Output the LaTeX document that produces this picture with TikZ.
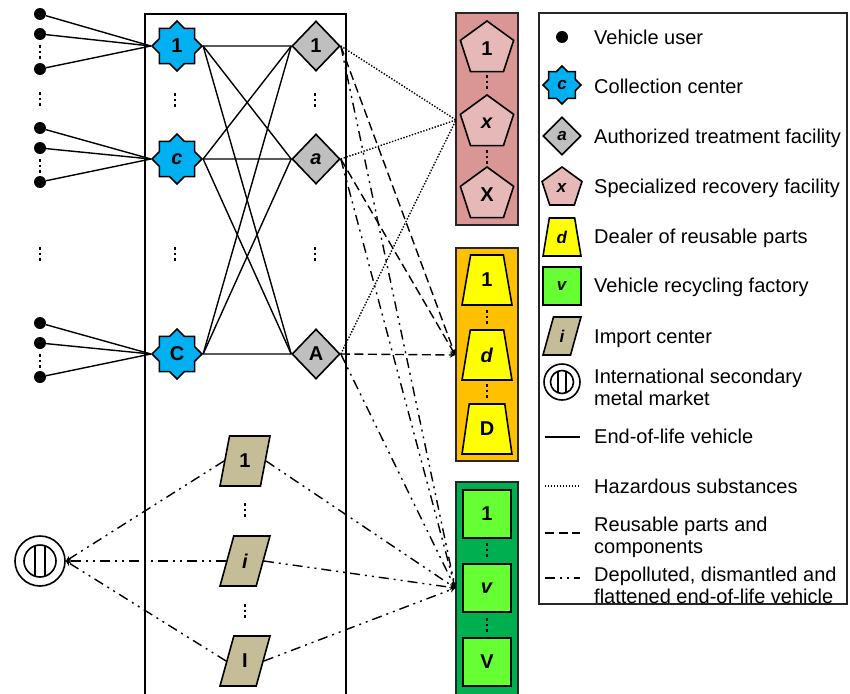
\documentclass[tikz,border=0pt]{standalone}
\usepackage{fontspec}
\setmainfont{Liberation Sans}
\usetikzlibrary{shapes.geometric}
\definecolor{ccblue}{HTML}{00B0F0}
\definecolor{atfgray}{HTML}{BFBFBF}
\definecolor{srfback}{HTML}{D99694}
\definecolor{srffill}{HTML}{E6B9B8}
\definecolor{dlrback}{HTML}{FFC000}
\definecolor{dlrfill}{HTML}{FFFF00}
\definecolor{vrfback}{HTML}{00B050}
\definecolor{vrffill}{HTML}{66FF33}
\definecolor{impfill}{HTML}{C4BD97}
\tikzset{
	user/.style={circle, fill=black, inner sep=0pt, minimum size=12pt},
	facility/.style={draw, line width=1.6pt, inner sep=0pt, font=\fontsize{20}{20}\selectfont\bfseries},
	coll/.style={facility, star, star points=8, star point ratio=1.31, fill=ccblue, minimum size=50pt},
	atf/.style={facility, diamond, fill=atfgray, minimum width=48pt, minimum height=50pt},
	srf/.style={facility, regular polygon, regular polygon sides=5, fill=srffill, minimum size=56pt},
	dlr/.style={facility, trapezium, trapezium left angle=78, trapezium right angle=78, trapezium stretches=true, fill=dlrfill, minimum width=50pt, minimum height=50pt},
	vrf/.style={facility, rectangle, fill=vrffill, minimum size=48pt},
	imp/.style={facility, trapezium, trapezium left angle=76, trapezium right angle=104, trapezium stretches=true, fill=impfill, minimum width=50pt, minimum height=50pt},
	market/.style={circle, draw, line width=1.6pt, inner sep=0pt},
	group/.style={draw=black!85, line width=1.5pt, inner sep=0pt, minimum width=62pt},
	small/.style={minimum size=38pt, font=\fontsize{17}{17}\selectfont\bfseries},
	eol/.style={line width=1.4pt},
	haz/.style={line width=1.4pt, dash pattern=on 1.4pt off 1.6pt},
	reuse/.style={line width=1.4pt, dash pattern=on 9pt off 4.5pt},
	depol/.style={line width=1.4pt, dash pattern=on 10pt off 5pt on 2pt off 5pt on 2pt off 5pt},
	ellip/.style={line width=2.6pt, dash pattern=on 2.6pt off 3pt},
	legtext/.style={anchor=base west, align=left, inner sep=0pt, font=\fontsize{20}{21.5}\selectfont}
}
\begin{document}
\begin{tikzpicture}[x=1pt, y=-1pt]
	\useasboundingbox (0,0) rectangle (850,693);

	\draw[line width=1.2pt] (145,695) -- (145,14) -- (346,14) -- (346,695);
	\node[group, fill=srfback, minimum height=212pt] (srfbox) at (487,119) {};
	\node[group, fill=dlrback, minimum height=213pt] (dlrbox) at (487,354.5) {};
	\node[group, fill=vrfback, minimum height=214pt] (vrfbox) at (487,589) {};

	% vehicle users
	\node[user] (u1) at (40,14) {};
	\node[user] (u2) at (40,34) {};
	\node[user] (u3) at (40,69) {};
	\node[user] (u4) at (40,128) {};
	\node[user] (u5) at (40,148) {};
	\node[user] (u6) at (40,182) {};
	\node[user] (u7) at (40,323) {};
	\node[user] (u8) at (40,343) {};
	\node[user] (u9) at (40,377) {};

	\node[coll] (cc1) at (177,46) {1};
	\node[coll] (ccc) at (177,159) {\textit{c}};
	\node[coll] (ccC) at (177,354) {C};

	\node[atf] (atf1) at (316,46) {1};
	\node[atf] (atfa) at (316,159) {\textit{a}};
	\node[atf] (atfA) at (316,354) {A};

	\node[srf] (srf1) at (487,49) {1};
	\node[srf] (srfx) at (487,123) {\textit{x}};
	\node[srf] (srfX) at (487,195) {X};

	\node[dlr] (dlr1) at (487,280) {1};
	\node[dlr] (dlrd) at (487,355) {\textit{d}};
	\node[dlr] (dlrD) at (487,429) {D};

	\node[vrf] (vrf1) at (487,514) {1};
	\node[vrf] (vrfv) at (487,588) {\textit{v}};
	\node[vrf] (vrfV) at (487,662) {V};

	\node[imp] (imp1) at (245,461) {1};
	\node[imp] (impi) at (245,561) {\textit{i}};
	\node[imp] (impI) at (245,661) {I};

	\node[market, minimum size=50pt] (mkt) at (40,561) {};
	\draw[line width=1.6pt] (mkt.center) circle (16pt);
	\draw[line width=2.2pt] (35,546) -- (35,576);
	\draw[line width=2.2pt] (45,546) -- (45,576);

	\coordinate (srfin) at (456,120);
	\coordinate (dlrin) at (dlrbox.west |- dlrd);
	\coordinate (vrfin) at (vrfbox.west |- vrfv);

	% dots between the rows
	\draw[ellip] (40,45) -- (40,59);
	\draw[ellip] (40,159) -- (40,173);
	\draw[ellip] (40,354) -- (40,368);
	\draw[ellip] (40,92) -- (40,106);
	\draw[ellip] (40,247) -- (40,261);
	\draw[ellip] (175,93) -- (175,107);
	\draw[ellip] (175,247) -- (175,261);
	\draw[ellip] (315,93) -- (315,107);
	\draw[ellip] (315,247) -- (315,261);
	\draw[ellip] (245,503) -- (245,517);
	\draw[ellip] (245,604) -- (245,618);
	\draw[ellip] (487,75) -- (487,89);
	\draw[ellip] (487,150) -- (487,164);
	\draw[ellip] (487,310) -- (487,324);
	\draw[ellip] (487,384) -- (487,398);
	\draw[ellip] (487,543) -- (487,557);
	\draw[ellip] (487,618) -- (487,632);

	\draw[eol] (u1) -- (cc1.west);
	\draw[eol] (u2) -- (cc1.west);
	\draw[eol] (u3) -- (cc1.west);
	\draw[eol] (u4) -- (ccc.west);
	\draw[eol] (u5) -- (ccc.west);
	\draw[eol] (u6) -- (ccc.west);
	\draw[eol] (u7) -- (ccC.west);
	\draw[eol] (u8) -- (ccC.west);
	\draw[eol] (u9) -- (ccC.west);

	\draw[eol] (cc1.east) -- (atf1.west);
	\draw[eol] (cc1.east) -- (atfa.west);
	\draw[eol] (cc1.east) -- (atfA.west);
	\draw[eol] (ccc.east) -- (atf1.west);
	\draw[eol] (ccc.east) -- (atfa.west);
	\draw[eol] (ccc.east) -- (atfA.west);
	\draw[eol] (ccC.east) -- (atf1.west);
	\draw[eol] (ccC.east) -- (atfa.west);
	\draw[eol] (ccC.east) -- (atfA.west);

	\draw[haz] (atf1.east) -- (srfin);
	\draw[haz] (atfa.east) -- (srfin);
	\draw[haz] (atfA.east) -- (srfin);

	\draw[reuse, -stealth] (atf1.east) -- (dlrin);
	\draw[reuse, -stealth] (atfa.east) -- (dlrin);
	\draw[reuse, -stealth] (atfA.east) -- (dlrin);

	\draw[depol, -stealth] (atf1.east) -- (vrfin);
	\draw[depol, -stealth] (atfa.east) -- (vrfin);
	\draw[depol, -stealth] (atfA.east) -- (vrfin);

	\draw[depol, -stealth] (imp1.west) -- (mkt.east);
	\draw[depol, -stealth] (impi.west) -- (mkt.east);
	\draw[depol, -stealth] (impI.west) -- (mkt.east);
	\draw[depol, -stealth] (imp1.east) -- (vrfin);
	\draw[depol, -stealth] (impi.east) -- (vrfin);
	\draw[depol, -stealth] (impI.east) -- (vrfin);

	% legend
	\draw[line width=1.2pt, draw=black!85] (539,13) rectangle (847,604);
	\node[user] (leguser) at (562,37) {};
	\node[coll, small] (legcc) at (562,85) {\textit{c}};
	\node[atf, small] (legatf) at (562,136) {\textit{a}};
	\node[srf, small, minimum size=42pt] (legsrf) at (562,188) {\textit{x}};
	\node[dlr, small] (legdlr) at (562,237) {\textit{d}};
	\node[vrf, small] (legvrf) at (562,286) {\textit{v}};
	\node[imp, small] (legimp) at (562,336) {\textit{i}};
	\node[market, minimum size=36pt] (legmkt) at (562,382) {};
	\draw[line width=1.6pt] (legmkt.center) circle (11.5pt);
	\draw[line width=2pt] (558,371.5) -- (558,392.5);
	\draw[line width=2pt] (566,371.5) -- (566,392.5);
	\draw[eol] (545,437) -- (580,437);
	\draw[haz] (545,486) -- (580,486);
	\draw[reuse] (545,533) -- (580,533);
	\draw[depol] (545,578) -- (580,578);

	\node[legtext] at (594,45) {Vehicle user};
	\node[legtext] at (594,93) {Collection center};
	\node[legtext] at (594,143) {Authorized treatment facility};
	\node[legtext] at (594,193) {Specialized recovery facility};
	\node[legtext] at (594,243) {Dealer of reusable parts};
	\node[legtext] at (594,292) {Vehicle recycling factory};
	\node[legtext] at (594,343) {Import center};
	\node[legtext] at (594,405) {International secondary\\metal market};
	\node[legtext] at (594,443) {End-of-life vehicle};
	\node[legtext] at (594,493) {Hazardous substances};
	\node[legtext] at (594,553) {Reusable parts and\\components};
	\node[legtext] at (594,603) {Depolluted, dismantled and\\flattened end-of-life vehicle};
\end{tikzpicture}
\end{document}
